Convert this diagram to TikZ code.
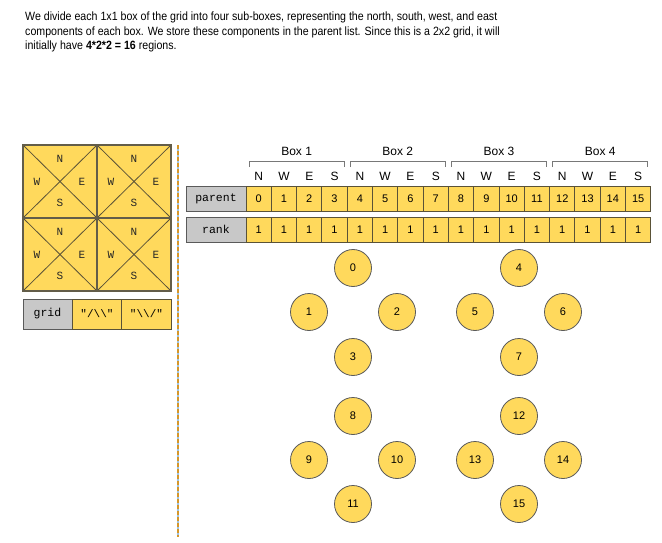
\documentclass[tikz,border=0pt]{standalone}
\usepackage{fontspec}
\setmainfont{Liberation Sans}
\setmonofont{Liberation Mono}
\usepackage{graphicx}
\definecolor{yel}{RGB}{255,217,92}
\definecolor{bord}{RGB}{90,82,55}
\definecolor{gry}{RGB}{200,200,200}
\definecolor{gryb}{RGB}{90,90,90}
\definecolor{dashc}{RGB}{214,150,40}
\definecolor{dashb}{RGB}{160,195,225}
\definecolor{brk}{RGB}{120,120,120}
\newcommand{\txs}[1]{\scalebox{0.885}[1]{#1}}
\begin{document}
\begin{tikzpicture}[x=1pt,y=-1pt,
  cell/.style={draw=bord, line width=1pt, fill=yel, minimum width=25.3pt, minimum height=25pt, inner sep=0pt, outer sep=0pt, font=\fontsize{11}{12}\selectfont},
  lab/.style={draw=gryb, line width=1pt, fill=gry, minimum width=60pt, minimum height=25pt, inner sep=0pt, outer sep=0pt, font=\ttfamily\fontsize{11.5}{12}\selectfont},
  gcell/.style={draw=bord, line width=1pt, fill=yel, minimum width=49.5pt, minimum height=30pt, inner sep=0pt, outer sep=0pt, font=\ttfamily\fontsize{11}{12}\selectfont},
  glab/.style={draw=gryb, line width=1pt, fill=gry, minimum width=49pt, minimum height=30pt, inner sep=0pt, outer sep=0pt, font=\ttfamily\fontsize{11.5}{12}\selectfont},
  circ/.style={circle, draw=gryb, line width=0.8pt, fill=yel, minimum size=37pt, inner sep=0pt, font=\fontsize{11}{12}\selectfont},
  hdr/.style={font=\fontsize{12}{13}\selectfont, inner sep=0pt},
  dir/.style={font=\ttfamily\fontsize{11}{12}\selectfont, inner sep=0pt, text=black!85},
  txt/.style={anchor=west, inner sep=0pt, font=\fontsize{12}{14}\selectfont}
]
\useasboundingbox (0,0) rectangle (662,543);

% intro text
\node[txt] (t1) at (25,17) {\txs{We divide each 1x1 box of the grid into four sub-boxes, representing the north, south, west, and east}};
\node[txt] (t2) at (25,32) {\txs{components of each box. We store these components in the parent list. Since this is a 2x2 grid, it will}};
\node[txt] (t3) at (25,46) {\txs{initially have \textbf{4*2*2 = 16} regions.}};

% grid of boxes
\foreach \gx/\gy in {23/145, 97/145, 23/218, 97/218} {
  \fill[yel] (\gx,\gy) rectangle ++(74,73);
  \draw[bord, line width=0.8pt] (\gx,\gy) -- ++(74,73);
  \draw[bord, line width=0.8pt] (\gx+74,\gy) -- ++(-74,73);
  \node[dir] at (\gx+37,\gy+14) {N};
  \node[dir] at (\gx+37,\gy+58) {S};
  \node[dir] at (\gx+14,\gy+36.5) {W};
  \node[dir] at (\gx+59,\gy+36.5) {E};
}
\draw[bord!75!gray, line width=1.6pt] (23,145) rectangle (171,291);
\draw[bord!75!gray, line width=1.6pt] (97,145) -- (97,291);
\draw[bord!75!gray, line width=1.6pt] (23,218) -- (171,218);

% grid row
\node[glab] (gl) at (47.5,314) {grid};
\node[gcell] (g0) at (97,314) {"/\textbackslash\textbackslash"};
\node[gcell] (g1) at (146.5,314) {"\textbackslash\textbackslash/"};

% separator
\coordinate (s1) at (178,145);
\coordinate (s2) at (178,537);
\draw[dashb, line width=1.5pt] (s1) -- (s2);
\draw[dashc, line width=1.5pt, dash pattern=on 4pt off 2pt] (s1) -- (s2);

% parent and rank arrays
\node[lab] (pl) at (216,198.5) {parent};
\node[lab] (rl) at (216,229.5) {rank};
\foreach \i in {0,...,15} {
  \pgfmathsetmacro\cx{246+25.3*(\i+0.5)}
  \node[cell] (p\i) at (\cx,198.5) {\i};
  \node[cell] (r\i) at (\cx,229.5) {1};
}
\foreach \k in {0,...,3} {
  \pgfmathsetmacro\bx{246+101.2*\k}
  \pgfmathtruncatemacro\bn{\k+1}
  \draw[brk, line width=1pt] (\bx+3,167) -- (\bx+3,161) -- (\bx+98,161) -- (\bx+98,167);
  \node[hdr] (b\k) at (\bx+50.6,151) {Box \bn};
  \foreach \j/\l in {0/N,1/W,2/E,3/S} {
    \node[hdr] at (\bx+25.3*\j+12.65,176) {\l};
  }
}

% union-find nodes
\foreach \n/\x/\y in {0/353/268, 1/309/312, 2/397/312, 3/353/357,
                      4/519/268, 5/475/312, 6/563/312, 7/519/357,
                      8/353/416, 9/309/460, 10/397/460, 11/353/504,
                      12/519/416, 13/475/460, 14/563/460, 15/519/504} {
  \node[circ] (c\n) at (\x,\y) {\n};
}
\end{tikzpicture}
\end{document}
